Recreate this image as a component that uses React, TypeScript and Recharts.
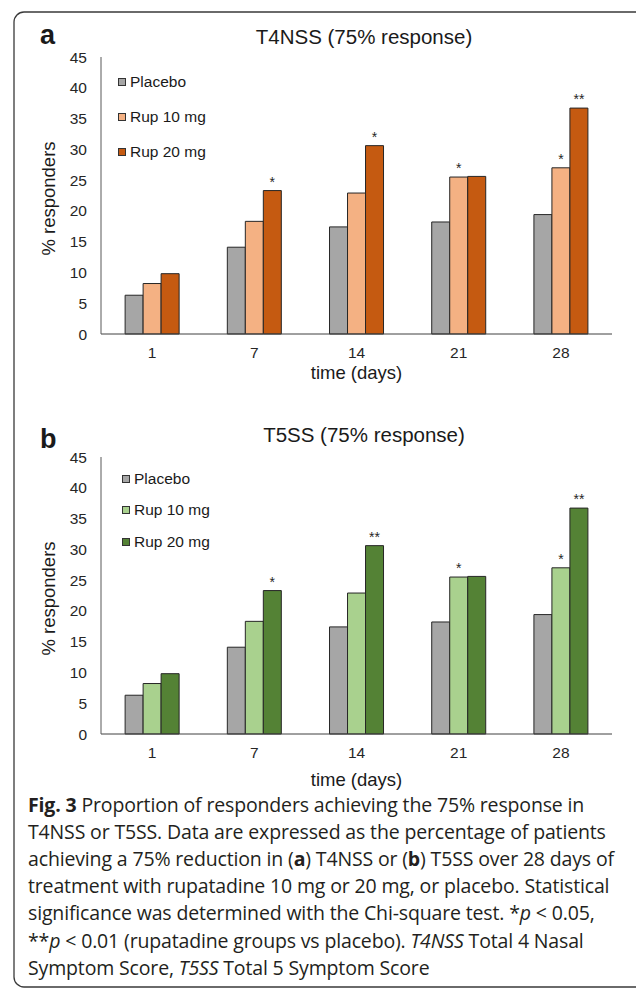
import React from 'react'
import { BarChart, Bar, XAxis, YAxis, LabelList, Legend, Label } from 'recharts'

// (same numbers in both panels)
const days = ['1', '7', '14', '21', '28']
const placebo = [6.3, 14.1, 17.4, 18.2, 19.4]
const rup10 = [8.2, 18.3, 22.9, 25.5, 27.0]
const rup20 = [9.8, 23.3, 30.6, 25.6, 36.7]
const yTicks = [0, 5, 10, 15, 20, 25, 30, 35, 40, 45]

// significance marks above bars
const sigA10 = ['', '', '', '*', '*']
const sigA20 = ['', '*', '*', '', '**']
const sigB10 = ['', '', '', '*', '*']
const sigB20 = ['', '*', '**', '', '**']

const seriesNames = ['Placebo', 'Rup 10 mg', 'Rup 20 mg']
const orange = ['#a6a6a6', '#f4b183', '#c55a11']
const green = ['#a6a6a6', '#a9d18e', '#548235']

const ARIAL = 'Arial, "Liberation Sans", Helvetica, sans-serif'
const CAPTION_FONT = '"Open Sans", "Noto Sans", sans-serif'

const buildRows = (s10: string[], s20: string[]) =>
  days.map((d, i) => ({ day: d, placebo: placebo[i], rup10: rup10[i], rup20: rup20[i], s10: s10[i], s20: s20[i] }))

const makeLegend = (rowH: number) => (props: any) => {
  const items = props.payload || []
  return (
    <div style={{ fontFamily: ARIAL, fontSize: 15.5, color: '#1a1a1a' }}>
      {items.map((it: any) => (
        <div key={it.value} style={{ display: 'flex', alignItems: 'center', height: rowH }}>
          <span style={{ display: 'inline-block', width: 6, height: 6, background: it.color, border: '1px solid #333', marginRight: 4 }} />
          <span>{it.value}</span>
        </div>
      ))}
    </div>
  )
}

const yLabel = (props: any) => {
  const vb = props.viewBox || {}
  const cx = 55
  const cy = vb.y + vb.height / 2 + 3
  return (
    <text x={cx} y={cy} transform={`rotate(-90 ${cx} ${cy})`} textAnchor="middle" fontSize={18.5} fill="#1a1a1a" fontFamily={ARIAL}>
      % responders
    </text>
  )
}

const xLabel = (dy: number) => (props: any) => {
  const vb = props.viewBox || {}
  return (
    <text x={vb.x + vb.width / 2} y={vb.y + dy} textAnchor="middle" fontSize={18.5} fill="#1a1a1a" fontFamily={ARIAL}>
      time (days)
    </text>
  )
}

type PanelProps = {
  top: number
  colors: string[]
  s10: string[]
  s20: string[]
  legendTop: number
  legendLeft: number
  legendRow: number
  xLabelDy: number
}

const Panel = ({ top, colors, s10, s20, legendTop, legendLeft, legendRow, xLabelDy }: PanelProps) => {
  const rows = buildRows(s10, s20)
  const starStyle = { fontSize: 14, fill: '#262626', fontFamily: ARIAL }
  return (
    <div style={{ position: 'absolute', left: 0, top }}>
      <BarChart
        width={636}
        height={390}
        data={rows}
        margin={{ top: 57, right: 24, bottom: 0, left: 20 }}
        barGap={0}
        barCategoryGap="23.6%"
      >
        <XAxis
          dataKey="day"
          height={56}
          tickLine={false}
          tickMargin={7}
          axisLine={{ stroke: '#404040' }}
          tick={{ fontSize: 15.5, fill: '#262626', fontFamily: ARIAL }}
        >
          <Label content={xLabel(xLabelDy)} />
        </XAxis>
        <XAxis xAxisId="top" dataKey="day" orientation="top" height={0} tick={false} tickLine={false} axisLine={{ stroke: '#595959' }} />
        <YAxis
          domain={[0, 45]}
          ticks={yTicks}
          width={81}
          tickLine={false}
          tickMargin={8}
          axisLine={{ stroke: '#595959' }}
          tick={{ fontSize: 15.5, fill: '#262626', fontFamily: ARIAL }}
        >
          <Label content={yLabel} />
        </YAxis>
        <YAxis yAxisId="right" orientation="right" domain={[0, 45]} width={0} tick={false} tickLine={false} axisLine={{ stroke: '#595959' }} />
        <Legend
          layout="vertical"
          align="center"
          verticalAlign="middle"
          content={makeLegend(legendRow)}
          wrapperStyle={{ left: legendLeft, top: legendTop, width: 'auto' }}
        />
        <Bar dataKey="placebo" name={seriesNames[0]} fill={colors[0]} stroke="#262626" strokeWidth={1} isAnimationActive={false} />
        <Bar dataKey="rup10" name={seriesNames[1]} fill={colors[1]} stroke="#262626" strokeWidth={1} isAnimationActive={false}>
          <LabelList dataKey="s10" position="top" offset={4} style={starStyle} />
        </Bar>
        <Bar dataKey="rup20" name={seriesNames[2]} fill={colors[2]} stroke="#262626" strokeWidth={1} isAnimationActive={false}>
          <LabelList dataKey="s20" position="top" offset={4} style={starStyle} />
        </Bar>
      </BarChart>
    </div>
  )
}

const captionLines: React.ReactNode[] = [
  <>
    <tspan fontWeight="bold">Fig. 3</tspan>
    {'  Proportion of responders achieving the 75% response in'}
  </>,
  <>T4NSS or T5SS. Data are expressed as the percentage of patients</>,
  <>
    {'achieving a 75% reduction in ('}
    <tspan fontWeight="bold">a</tspan>
    {') T4NSS or ('}
    <tspan fontWeight="bold">b</tspan>
    {') T5SS over 28 days of'}
  </>,
  <>treatment with rupatadine 10 mg or 20 mg, or placebo. Statistical</>,
  <>
    {'significance was determined with the Chi-square test. *'}
    <tspan fontStyle="italic">p</tspan>
    {' < 0.05,'}
  </>,
  <>
    {'**'}
    <tspan fontStyle="italic">p</tspan>
    {' < 0.01 (rupatadine groups vs placebo). '}
    <tspan fontStyle="italic">T4NSS</tspan>
    {' Total 4 Nasal'}
  </>,
  <>
    {'Symptom Score, '}
    <tspan fontStyle="italic">T5SS</tspan>
    {' Total 5 Symptom Score'}
  </>,
]

export default function App() {
  return (
    <div style={{ position: 'absolute', left: 0, top: 0, width: 636, height: 989, background: '#fff', overflow: 'hidden' }}>
      <Panel top={0} colors={orange} s10={sigA10} s20={sigA20} legendTop={64} legendLeft={118} legendRow={35} xLabelDy={45} />
      <Panel top={400} colors={green} s10={sigB10} s20={sigB20} legendTop={63} legendLeft={122} legendRow={31.5} xLabelDy={52} />
      <svg width={636} height={989} style={{ position: 'absolute', left: 0, top: 0, pointerEvents: 'none' }}>
        <rect x={14} y={12} width={700} height={975} rx={10} fill="none" stroke="#3a3a3a" strokeWidth={1.3} />
        <text x={40} y={44} fontSize={27} fontWeight="bold" fill="#1a1a1a" fontFamily={ARIAL}>a</text>
        <text x={364} y={44} fontSize={20.5} textAnchor="middle" fill="#1a1a1a" fontFamily={ARIAL}>T4NSS (75% response)</text>
        <text x={40} y={448} fontSize={27} fontWeight="bold" fill="#1a1a1a" fontFamily={ARIAL}>b</text>
        <text x={364} y={442} fontSize={20.5} textAnchor="middle" fill="#1a1a1a" fontFamily={ARIAL}>T5SS (75% response)</text>
        {captionLines.map((ln, i) => (
          <text key={i} x={28} y={811.5 + i * 27.2} fontSize={19.5} letterSpacing={-0.15} fill="#231f20" fontFamily={CAPTION_FONT}>
            {ln}
          </text>
        ))}
      </svg>
    </div>
  )
}
